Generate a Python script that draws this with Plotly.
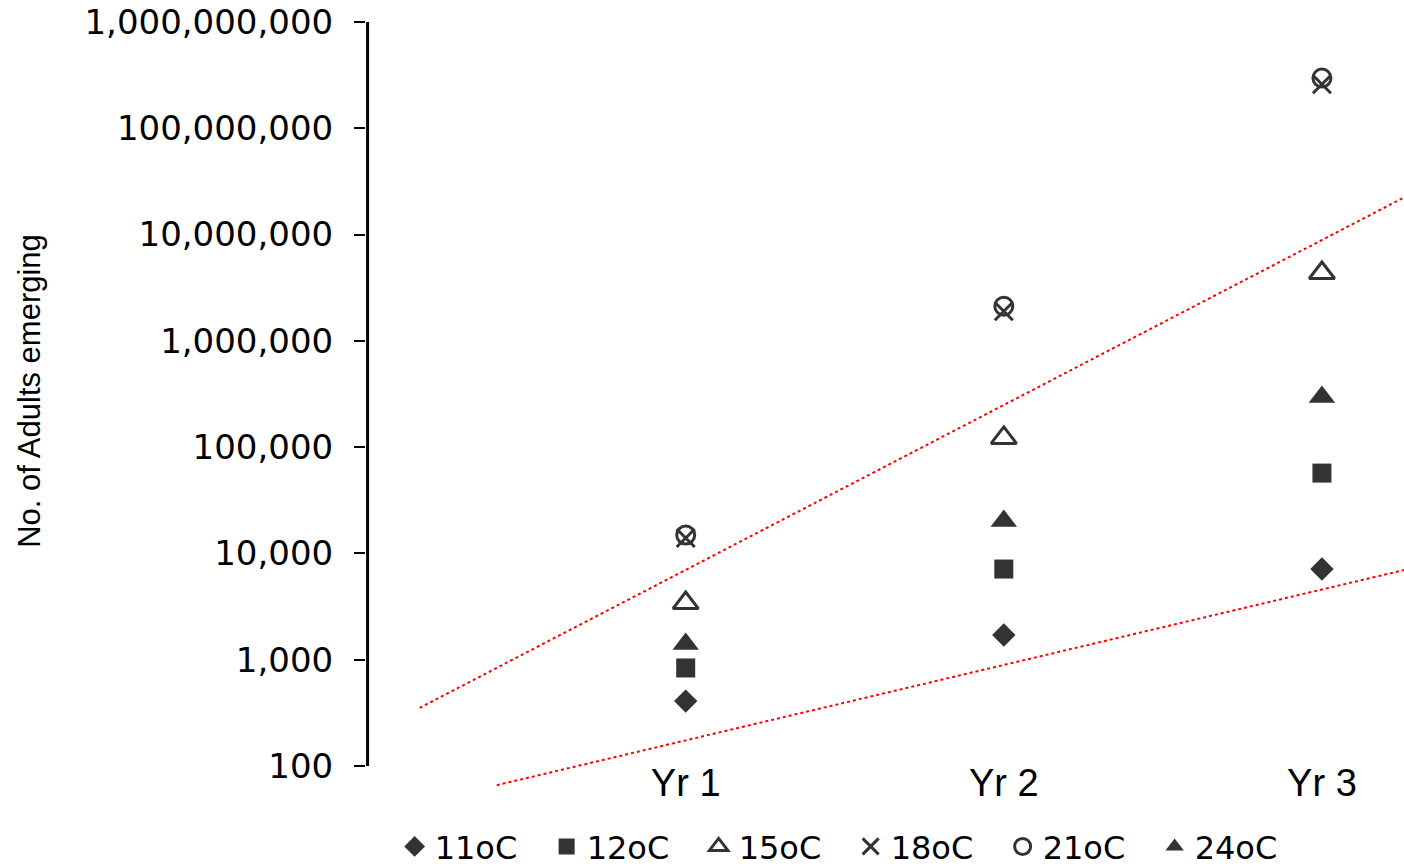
import plotly.graph_objects as go

# ---- data ----
years = ["Yr 1", "Yr 2", "Yr 3"]
year_pos = [1, 2, 3]
series_names = ["11oC", "12oC", "15oC", "18oC", "21oC", "24oC"]
s11 = [408, 1706, 7130]
s12 = [836, 7130, 57000]
s15 = [3410, 122000, 4350000]
s18 = [13960, 1900000, 260000000]
s21 = [14900, 2120000, 297000000]
s24 = [1406, 20200, 296000]

trend_upper_x = [0.1635, 3.26]
trend_upper_y = [352, 22500000]
trend_lower_x = [0.406, 3.26]
trend_lower_y = [66, 7000]

y_ticks = [100, 1000, 10000, 100000, 1000000, 10000000, 100000000, 1000000000]

# ---- styles ----
dark = "#333333"
styles = [
    dict(symbol="diamond", size=18, color=dark),
    dict(symbol="square", size=19, color=dark),
    dict(symbol="triangle-up-open", size=22, color=dark, line=dict(color=dark, width=3)),
    dict(symbol="x-thin-open", size=18, color=dark, line=dict(color=dark, width=3)),
    dict(symbol="circle-open", size=18, color=dark, line=dict(color=dark, width=3)),
    dict(symbol="triangle-up", size=23, color=dark),
]
series_values = [s11, s12, s15, s18, s21, s24]

fig = go.Figure()

# axis line drawn from first to last tick
fig.add_trace(go.Scatter(x=[0, 0], y=[y_ticks[0], y_ticks[-1]], mode="lines",
                         line=dict(color="black", width=3), showlegend=False,
                         hoverinfo="skip"))

# trendlines
for tx, ty in [(trend_upper_x, trend_upper_y), (trend_lower_x, trend_lower_y)]:
    fig.add_trace(go.Scatter(x=tx, y=ty, mode="lines",
                             line=dict(color="#ff0000", width=2, dash="dot"),
                             showlegend=False, hoverinfo="skip"))

for name, vals, st in zip(series_names, series_values, styles):
    fig.add_trace(go.Scatter(x=year_pos, y=vals, mode="markers", name=name,
                             marker=st))

fig.update_layout(
    width=1404, height=868,
    margin=dict(l=366, r=0, t=10, b=68, autoexpand=False),
    paper_bgcolor="white", plot_bgcolor="white",
    showlegend=True,
    legend=dict(orientation="h", x=0.4669, xanchor="center", y=-0.059, yanchor="middle",
                font=dict(family="DejaVu Sans", size=32, color="black"),
                entrywidth=107, entrywidthmode="pixels", bgcolor="rgba(0,0,0,0)"),
    xaxis=dict(range=[-0.005, 3.258], tickvals=year_pos, ticktext=years,
               showgrid=False, zeroline=False, showline=False, ticks="",
               anchor="free", position=0.054,
               tickfont=dict(family="Liberation Sans", size=38, color="black")),
    yaxis=dict(type="log", range=[1.680, 9.113], tickvals=y_ticks, tickformat=",.0f",
               showgrid=False, zeroline=False, showline=False,
               ticks="outside", ticklen=11, tickwidth=2, tickcolor="black",
               ticklabelstandoff=14,
               tickfont=dict(family="DejaVu Sans", size=34, color="black")),
    annotations=[dict(text="No. of Adults emerging", xref="paper", yref="paper",
                      x=-0.3237, y=0.518, xanchor="center", yanchor="middle",
                      textangle=-90, showarrow=False,
                      font=dict(family="Liberation Sans", size=31, color="black"))],
)

fig.write_html("out.html")
